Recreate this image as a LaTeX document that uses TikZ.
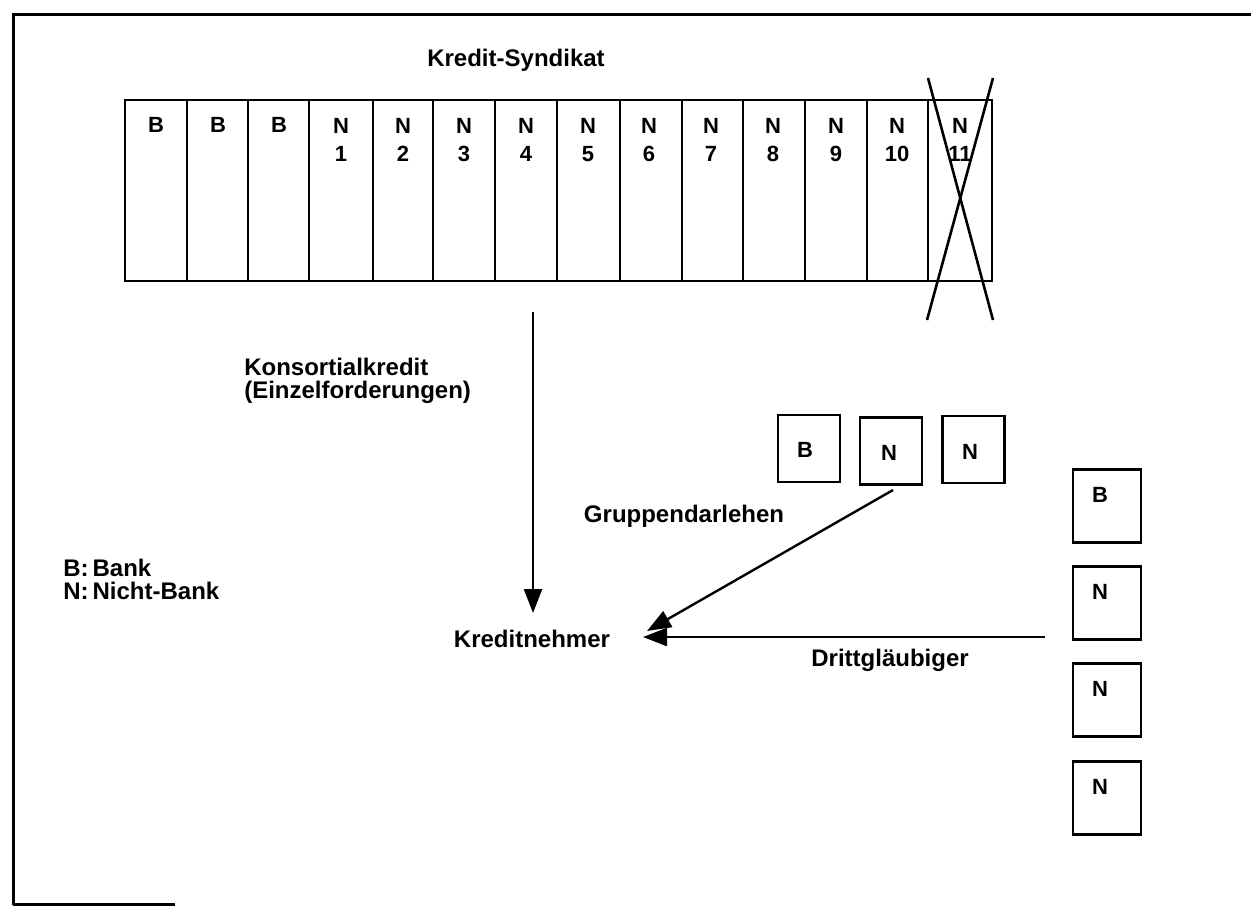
\documentclass[tikz,border=0pt]{standalone}
\usepackage{fontspec}
\setmainfont{Liberation Sans}
\usetikzlibrary{arrows.meta}
\begin{document}
\begin{tikzpicture}[x=0.5pt,y=-0.5pt,
  line width=1.3pt,
  cl/.style={font=\fontsize{11}{14}\selectfont\bfseries, inner sep=0pt, align=center},
  lbl/.style={font=\fontsize{12}{11.5}\selectfont\bfseries, inner sep=0pt, align=center},
  lblw/.style={lbl, anchor=west, align=left},
  sbox/.style={draw, line width=1.3pt, minimum width=31pt, minimum height=33.5pt, inner sep=0pt},
  vbox/.style={draw, line width=1.3pt, minimum width=34pt, minimum height=36.5pt, inner sep=0pt},
  arr/.style={line width=1.2pt, -{Triangle[length=12pt,width=9pt]}}
]
\useasboundingbox (0,0) rectangle (1251,906);
% frame
\draw[line width=1.5pt] (1251,14) -- (13,14) -- (13,905);
\draw[line width=1.5pt] (13,904) -- (175,904);

% title
\node[lbl] (title) at (516,60) {Kredit-Syndikat};

% syndicate block
\node[draw, line width=1.4pt, minimum width=433.5pt, minimum height=90.5pt, inner sep=0pt] (synd) at (558.5,190.5) {};
\foreach \x in {187,248,309,373,433,495,557,620,682,743,805,867,928}
  \draw (\x,100) -- (\x,281);
\node[cl] (c1) at (156,125) {B};
\node[cl] (c2) at (218,125) {B};
\node[cl] (c3) at (279,125) {B};
\node[cl, anchor=north] (c4) at (341,117) {N\\1};
\node[cl, anchor=north] (c5) at (403,117) {N\\2};
\node[cl, anchor=north] (c6) at (464,117) {N\\3};
\node[cl, anchor=north] (c7) at (526,117) {N\\4};
\node[cl, anchor=north] (c8) at (588,117) {N\\5};
\node[cl, anchor=north] (c9) at (649,117) {N\\6};
\node[cl, anchor=north] (c10) at (711,117) {N\\7};
\node[cl, anchor=north] (c11) at (773,117) {N\\8};
\node[cl, anchor=north] (c12) at (836,117) {N\\9};
\node[cl, anchor=north] (c13) at (897,117) {N\\10};
\node[cl, anchor=north] (c14) at (960,117) {N\\11};
% cross over N11
\coordinate (x1) at (928,78);
\coordinate (x2) at (993,320);
\coordinate (x3) at (993,78);
\coordinate (x4) at (927,320);
\draw (x1) -- (x2);
\draw (x3) -- (x4);

% labels
\node[lblw] (kons) at (243,381) {Konsortialkredit\\(Einzelforderungen)};
\node[lbl] (kn) at (532,639) {Kreditnehmer};
\node[lbl] (grp) at (684,516) {Gruppendarlehen};
\node[lbl] (dritt) at (890,660) {Drittgläubiger};
\node[lblw] (legend) at (62,579) {B:\,Bank\\N:\,Nicht-Bank};

% group boxes
\node[sbox] (gB) at (809,448.5) {};
\node[cl] at (805,450) {B};
\node[sbox] (gN1) at (891,451) {};
\node[cl] at (889,453) {N};
\node[sbox] (gN2) at (973.5,449.5) {};
\node[cl] at (970,452) {N};

% third-party creditors
\node[vbox] (dB) at (1107,506) {};
\node[cl] at (1100,495) {B};
\node[vbox] (dN1) at (1107,603) {};
\node[cl] at (1100,592) {N};
\node[vbox] (dN2) at (1107,700) {};
\node[cl] at (1100,689) {N};
\node[vbox] (dN3) at (1107,798) {};
\node[cl] at (1100,787) {N};

% arrows
\coordinate (a1s) at (533,312);
\coordinate (a1e) at (533,613);
\draw[arr] (a1s) -- (a1e);
\coordinate (a2s) at (893,490);
\coordinate (a2e) at (647,631);
\draw[arr] (a2s) -- (a2e);
\coordinate (a3s) at (1045,637);
\coordinate (a3e) at (643,637);
\draw[arr] (a3s) -- (a3e);
\end{tikzpicture}
\end{document}
